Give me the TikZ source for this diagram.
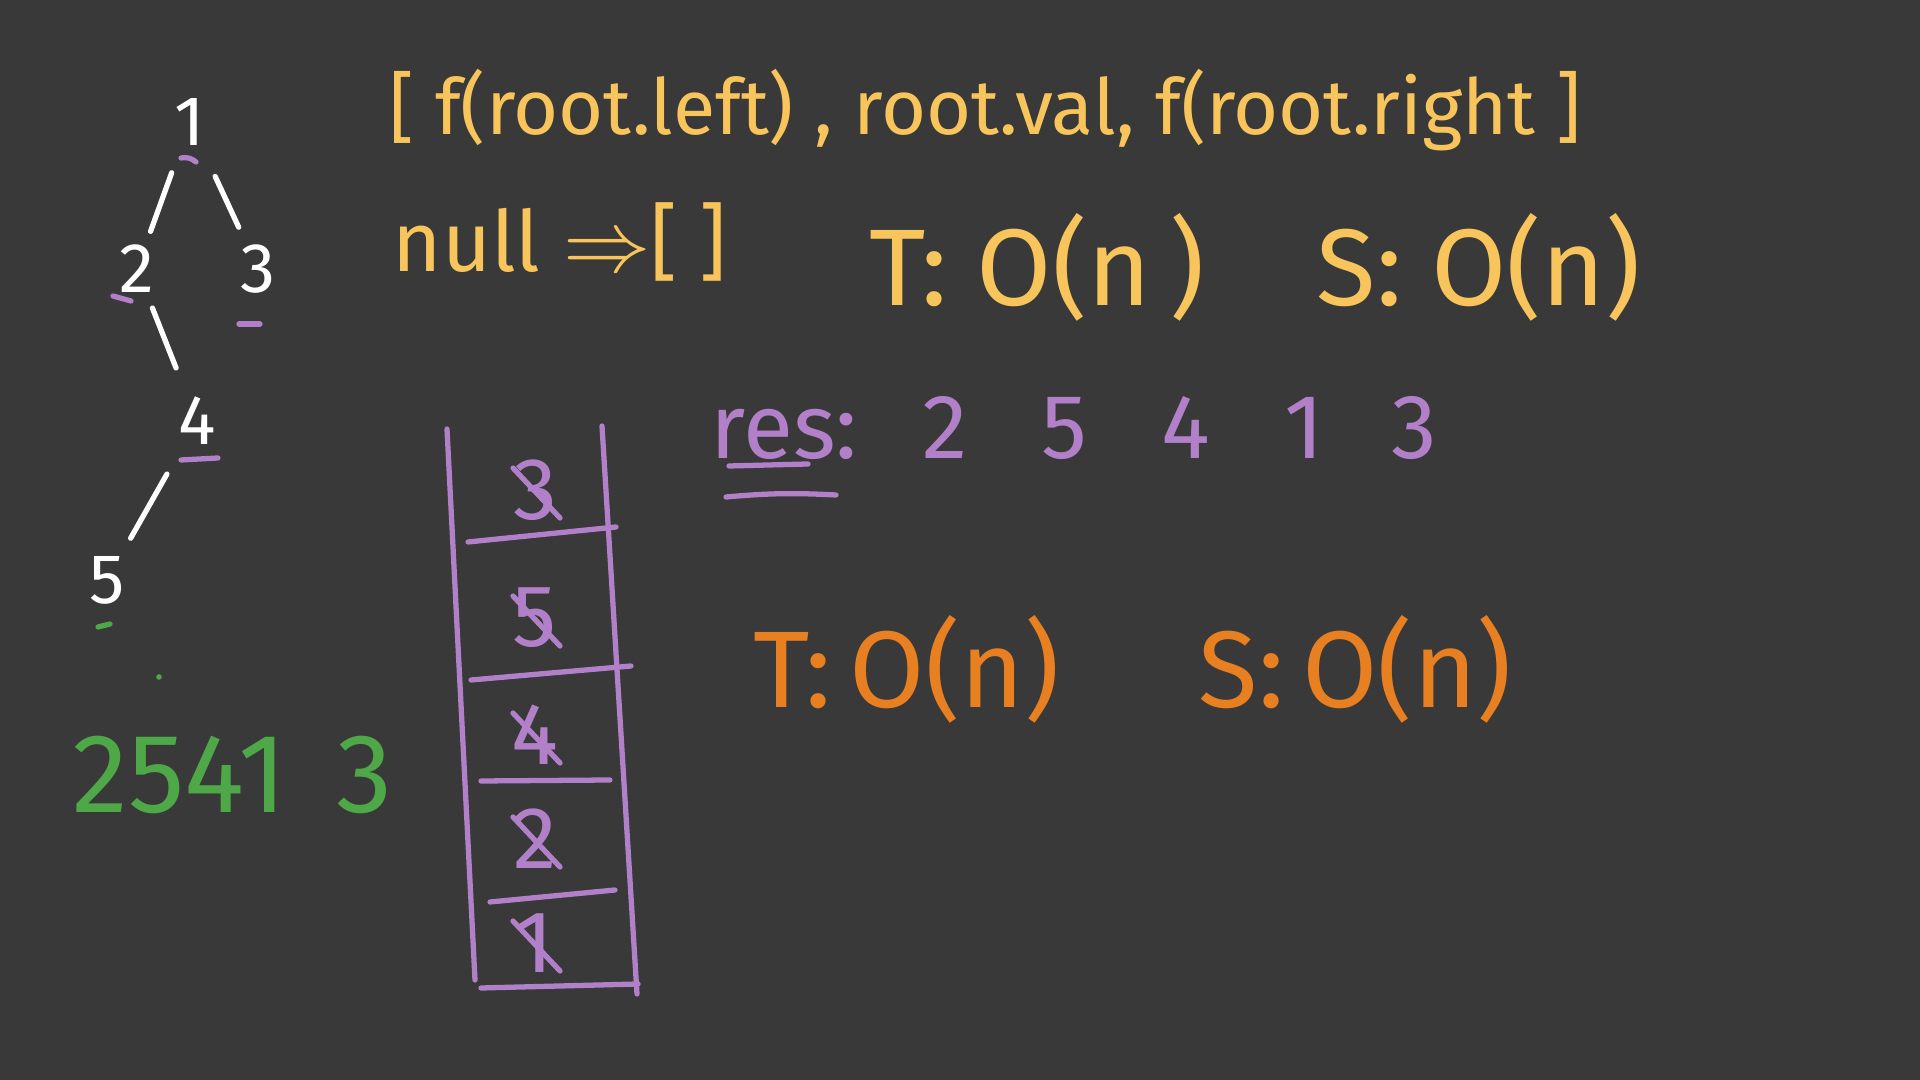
\documentclass[tikz,border=0pt]{standalone}
\usepackage{fontspec}
\setmainfont{Fira Sans}
\usepackage{tikz}

\definecolor{board}{RGB}{57,57,57}
\definecolor{chalkyellow}{RGB}{248,196,92}
\definecolor{chalkpurple}{RGB}{178,128,200}
\definecolor{chalkorange}{RGB}{232,128,34}
\definecolor{chalkgreen}{RGB}{78,168,72}

\newcommand\handsize[1]{\fontsize{#1}{#1}\selectfont}
\newcommand\gap{\hspace{0.74cm}}

\tikzset{
  ink/.style={line width=1.5pt, line cap=round, line join=round},
  treenum/.style={white, inner sep=0pt, font=\handsize{20pt}},
  stacknum/.style={chalkpurple, inner sep=0pt, font=\handsize{25pt}},
  hand/.style={inner sep=0pt, anchor=base west},
}

\begin{document}
\begin{tikzpicture}
% Board
\fill[board] (0,0) rectangle (19.2,10.8);
\useasboundingbox (0,0) rectangle (19.2,10.8);

% Tree
\node[treenum] (n1) at (1.90,9.58) {1};
\node[treenum] (n2) at (1.37,8.11) {2};
\node[treenum] (n3) at (2.58,8.11) {3};
\node[treenum] (n4) at (1.97,6.59) {4};
\node[treenum] (n5) at (1.07,5.00) {5};

\draw[ink, white, shorten <=0.54cm, shorten >=0.40cm] (n1.center) -- (n2.center);
\draw[ink, white, shorten <=0.60cm, shorten >=0.46cm] (n1.center) -- (n3.center);
\draw[ink, white, shorten <=0.42cm, shorten >=0.57cm] (n2.center) -- (n4.center);
\draw[ink, white, shorten <=0.61cm, shorten >=0.48cm] (n4.center) -- (n5.center);

% Visit marks
\draw[ink, chalkpurple] ([shift={(-0.09,-0.36)}]n1.center) to[bend left=25] ([shift={(0.06,-0.40)}]n1.center);
\draw[ink, chalkpurple] ([shift={(-0.24,-0.27)}]n2.center) -- ([shift={(-0.06,-0.32)}]n2.center);
\draw[ink, chalkpurple] ([shift={(-0.19,-0.55)}]n3.center) -- ([shift={(0.02,-0.55)}]n3.center);
\draw[ink, chalkpurple] ([shift={(-0.16,-0.39)}]n4.center) -- ([shift={(0.21,-0.37)}]n4.center);
\draw[ink, chalkgreen] ([shift={(-0.09,-0.47)}]n5.center) -- ([shift={(0.03,-0.44)}]n5.center);
\fill[chalkgreen] (1.59,4.03) circle (0.8pt);

% In-order result
\node[chalkgreen, inner sep=0pt, font=\handsize{32pt}] (order) at (2.33,3.05) {2541\hspace{0.5cm}3};

% Recursion
\node[hand, chalkyellow, font=\handsize{22pt}] (rec) at (3.89,9.45) {[ f(root.left) , root.val, f(root.right ]};
\node[hand, chalkyellow, font=\handsize{24pt}] (base) at (3.92,8.08) {null $\Rightarrow$[ ]};
\node[hand, chalkyellow, font=\handsize{31pt}] (tRec) at (8.69,7.74) {T: O(n\,)};
\node[hand, chalkyellow, font=\handsize{31pt}] (sRec) at (13.16,7.74) {S: O(n)};

% Stack
\draw[ink, chalkpurple] (4.47,6.51) -- (4.75,1.00);
\draw[ink, chalkpurple] (6.02,6.54) -- (6.37,0.86);
\foreach \xa/\ya/\xb/\yb in {4.68/5.38/6.16/5.53, 4.71/4.00/6.31/4.14, 4.81/2.99/6.10/3.00,
  4.90/1.78/6.15/1.90, 4.81/0.92/6.38/0.96}
  \draw[ink, chalkpurple] (\xa,\ya) -- (\xb,\yb);

\foreach \d/\y [count=\i] in {3/5.90, 5/4.62, 4/3.45, 2/2.41, 1/1.37} {
  \node[stacknum] (s\i) at (5.35,\y) {\d};
  \draw[ink, chalkpurple] ([shift={(-0.22,0.22)}]s\i.center) -- ([shift={(0.25,-0.28)}]s\i.center);
}

% Iterative
\node[hand, chalkpurple, font=\handsize{26pt}] (res) at (7.10,6.21) {res:};
\node[hand, chalkpurple, font=\handsize{26pt}] (resVals) at (9.22,6.21) {2\gap5\gap4\gap1\hspace{0.68cm}3};
\draw[ink, chalkpurple] (7.29,6.14) -- (8.08,6.16);
\draw[ink, chalkpurple] (7.26,5.83) to[bend left=4] (8.36,5.85);

\node[hand, chalkorange, font=\handsize{31pt}] (tIt) at (7.53,3.72) {T:\,O(n)};
\node[hand, chalkorange, font=\handsize{31pt}] (sIt) at (11.98,3.72) {S:\,O(n)};
\end{tikzpicture}
\end{document}
